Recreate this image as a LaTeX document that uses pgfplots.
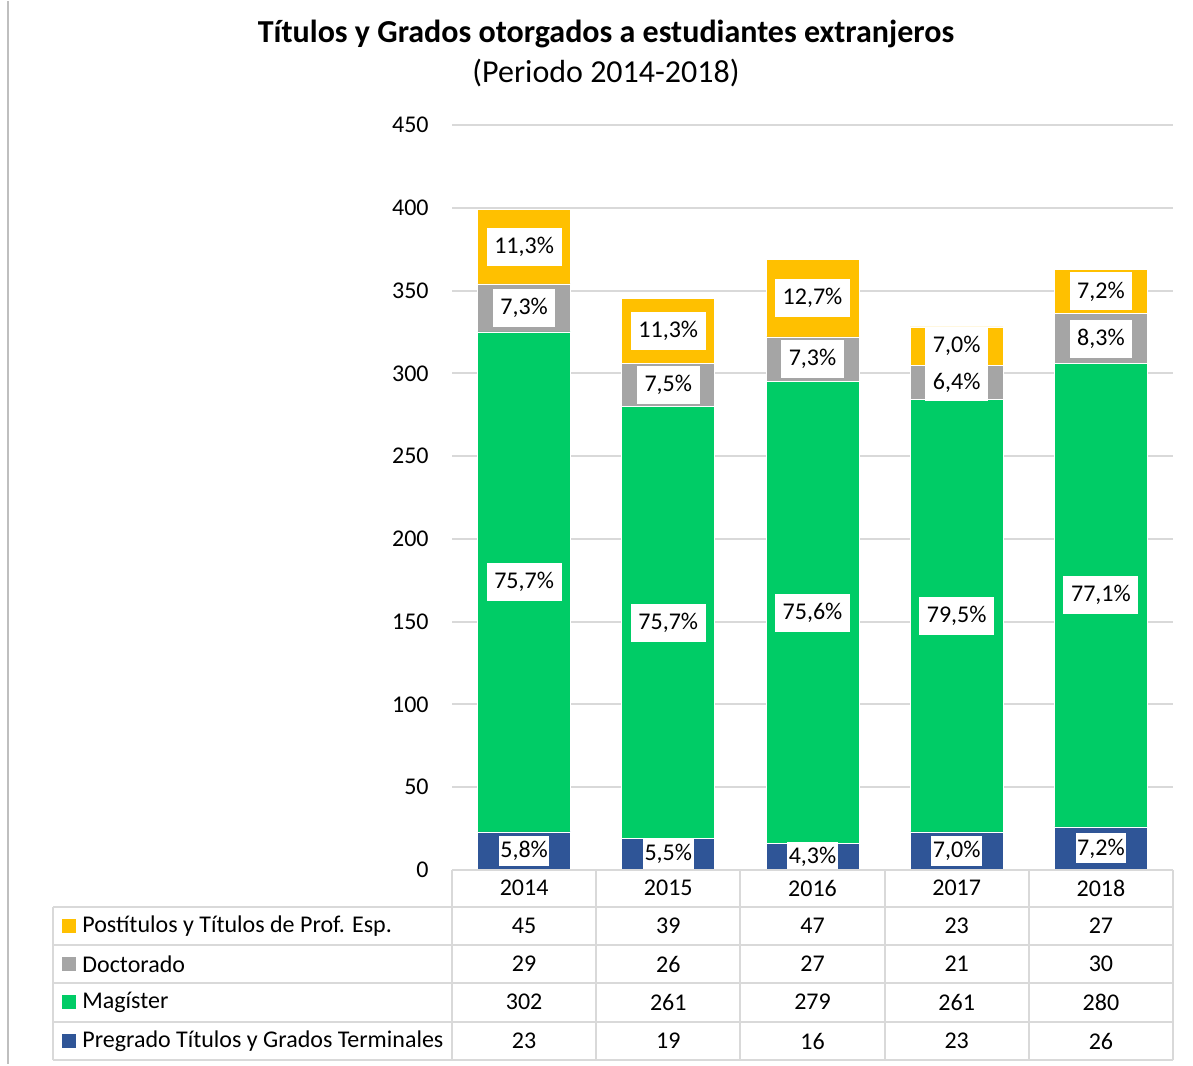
\documentclass[border=0pt]{standalone}
\usepackage{fontspec}
\setmainfont{Carlito}
\usepackage{pgfplots}
\usepackage{pgfplotstable}
\pgfplotsset{compat=1.18}
\definecolor{cyellow}{HTML}{FFC000}
\definecolor{cgray}{HTML}{A5A5A5}
\definecolor{cgreen}{HTML}{00CC66}
\definecolor{cblue}{HTML}{2F5597}
\definecolor{cgrid}{HTML}{D9D9D9}
\definecolor{cedge}{HTML}{BFBFBF}

% x = category index, labels are the shares printed on the bars
\pgfplotstableread{
x year pre mag doc post lpre lmag ldoc lpost
0 2014 23 302 29 45 5,8 75,7 7,3 11,3
1 2015 19 261 26 39 5,5 75,7 7,5 11,3
2 2016 16 279 27 47 4,3 75,6 7,3 12,7
3 2017 23 261 21 23 7,0 79,5 6,4 7,0
4 2018 26 280 30 27 7,2 77,1 8,3 7,2
}\datatable

\newcommand\twelve{\fontsize{12}{14}\selectfont}
\newcommand\sixteen{\fontsize{16}{19}\selectfont}

\begin{document}
\begin{tikzpicture}
\begin{scope}[x=0.5pt,y=-0.5pt]
  \useasboundingbox (0,0) rectangle (1193,1063);
\end{scope}

\begin{axis}[
  at={(226pt,-434.5pt)}, anchor=south west,
  scale only axis, width=360.5pt, height=372.5pt,
  ybar stacked, bar width=46.5pt,
  xmin=-0.5, xmax=4.5, ymin=0, ymax=450,
  enlargelimits=false,
  xtick=\empty,
  ytick={0,50,...,450},
  ymajorgrids, grid style={color=cgrid, line width=1pt},
  axis line style={draw=none},
  major tick length=0pt,
  yticklabel style={font=\twelve, inner xsep=0pt, xshift=-11.5pt},
  /pgf/number format/assume math mode=true,
  point meta=explicit symbolic,
  nodes near coords={\pgfplotspointmeta\%},
  every node near coord/.style={font=\twelve, text=black, fill=white,
    anchor=center, inner xsep=3.8pt, inner ysep=0pt, minimum height=19pt},
]
\addplot[fill=cblue, draw=white, line width=0.4pt,
  every node near coord/.append style={inner xsep=0.8pt, minimum height=15pt}]
  table[x=x, y=pre, meta=lpre]{\datatable};
\addplot[fill=cgreen, draw=white, line width=0.4pt]
  table[x=x, y=mag, meta=lmag]{\datatable};
\addplot[fill=cgray, draw=white, line width=0.4pt]
  table[x=x, y=doc, meta=ldoc]{\datatable};
\addplot[fill=cyellow, draw=white, line width=0.4pt]
  table[x=x, y=post, meta=lpost]{\datatable};
\end{axis}

\begin{scope}[x=0.5pt,y=-0.5pt]
  % page edge line
  \draw[cedge, line width=1pt] (8,0) -- (8,1063);
  % titles
  \node[font=\sixteen\bfseries] at (606,33) {Títulos y Grados otorgados a estudiantes extranjeros};
  \node[font=\sixteen] at (606,72) {(Periodo 2014-2018)};
  % data table grid
  \begin{scope}[cgrid, line width=1pt]
    \draw (452,869) -- (1173,869);
    \foreach \yy in {906,944,982,1021,1059} \draw (53,\yy) -- (1173,\yy);
    \foreach \xx in {452,596.2,740.4,884.6,1028.8,1173} \draw (\xx,869) -- (\xx,1059);
    \draw (53,906) -- (53,1059);
  \end{scope}
  % legend column
  \foreach \lab/\col/\yy in {Postítulos y Títulos de Prof. Esp./cyellow/925,
      Doctorado/cgray/963, Magíster/cgreen/1001,
      Pregrado Títulos y Grados Terminales/cblue/1040} {
    \fill[\col] (62,\yy-7) rectangle (76,\yy+7);
    \node[font=\twelve, anchor=west, inner sep=0pt] at (82,\yy) {\lab};
  }
  % values
  \foreach \r in {0,...,4} {
    \pgfmathsetmacro\cx{524.1+144.2*\r}
    \pgfplotstablegetelem{\r}{year}\of\datatable
    \node[font=\twelve] at (\cx,887) {\pgfplotsretval};
    \pgfplotstablegetelem{\r}{post}\of\datatable
    \node[font=\twelve] at (\cx,925) {\pgfplotsretval};
    \pgfplotstablegetelem{\r}{doc}\of\datatable
    \node[font=\twelve] at (\cx,963) {\pgfplotsretval};
    \pgfplotstablegetelem{\r}{mag}\of\datatable
    \node[font=\twelve] at (\cx,1001) {\pgfplotsretval};
    \pgfplotstablegetelem{\r}{pre}\of\datatable
    \node[font=\twelve] at (\cx,1040) {\pgfplotsretval};
  }
\end{scope}
\end{tikzpicture}
\end{document}
